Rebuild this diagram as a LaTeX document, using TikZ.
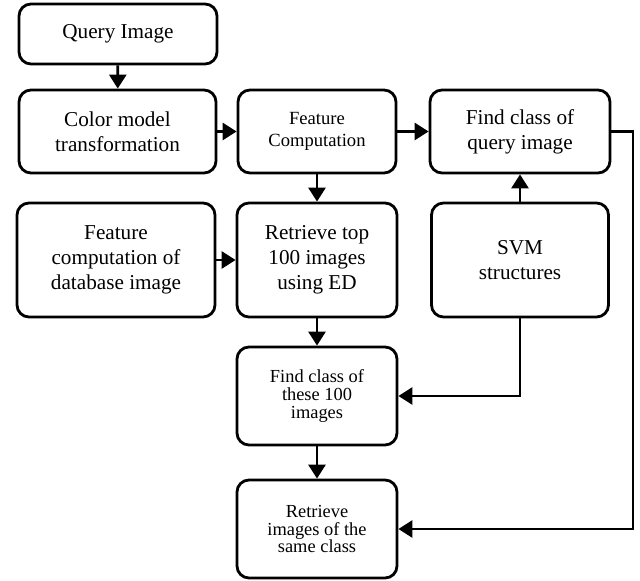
\documentclass[tikz,border=0pt]{standalone}
\usepackage{fontspec}
\setmainfont{Liberation Serif}
\usetikzlibrary{arrows.meta}

\newcommand{\bigtxt}{\fontsize{10.6}{12.5}\selectfont}
\newcommand{\smalltxt}{\fontsize{9.2}{8.8}\selectfont}

\begin{document}
\begin{tikzpicture}
  [x=0.5pt,y=-0.5pt,
   box/.style={draw,line width=1.4pt,rounded corners=6pt,align=center,inner sep=1pt,font=\bigtxt},
   arr/.style={line width=1.4pt,-{Triangle[length=7pt,width=8.5pt]}}]
  \useasboundingbox (0,0) rectangle (640,581);

  \node[box,minimum width=99pt,minimum height=30pt]   (query)  at (118,34)    {Query Image};
  \node[box,minimum width=98.5pt,minimum height=41.5pt] (color) at (117.5,131.5) {Color model\\transformation};
  \node[box,minimum width=79pt,minimum height=41.5pt,font=\fontsize{9.3}{11}\selectfont] (feat) at (317,131.5) {Feature\\Computation};
  \node[box,minimum width=90pt,minimum height=41.5pt] (qcls)  at (520,131.5) {Find class of\\query image};
  \node[box,minimum width=99pt,minimum height=57pt]   (dbfeat) at (116,260)   {Feature\\computation of\\database image};
  \node[box,minimum width=80pt,minimum height=57pt]   (top)    at (317,260)   {Retrieve top\\100 images\\using ED};
  \node[box,minimum width=88.5pt,minimum height=57pt] (svm)    at (520,260)   {SVM\\structures};
  \node[box,minimum width=80pt,minimum height=49pt,font=\smalltxt] (cls)    at (317,396) {Find class of\\these 100\\images};
  \node[box,minimum width=80pt,minimum height=49pt,font=\smalltxt] (result) at (317,529) {Retrieve\\images of the\\same class};
  \coordinate (rr) at (633,529);

  \foreach \from/\to in {query/color, color/feat, feat/qcls, feat/top, dbfeat/top, svm/qcls, top/cls, cls/result}
    \draw [arr] (\from) -- (\to);

  \draw [arr] (svm.south) |- (cls.east);
  \draw [arr] (qcls.east) -| (rr) -- (result.east);

\end{tikzpicture}
\end{document}
